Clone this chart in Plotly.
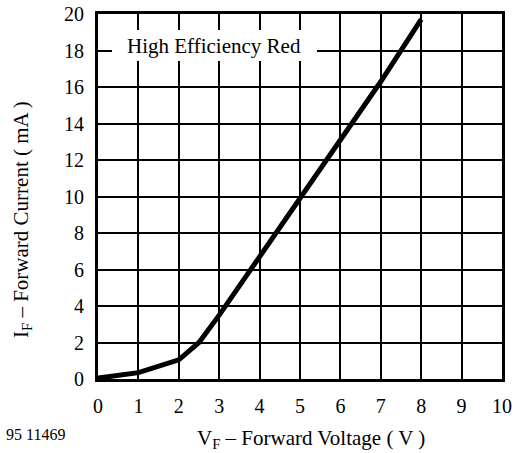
import plotly.graph_objects as go

voltage = [0, 1, 2, 2.5, 3, 4, 5, 6, 7, 8]
current = [0.05, 0.35, 1.05, 2.0, 3.5, 6.7, 10.0, 13.1, 16.3, 19.7]

x_ticks = list(range(0, 11))
y_ticks = list(range(0, 21, 2))

font = "Liberation Serif, Times New Roman, serif"

L, R, T, B = 98, 13, 14, 74
W, H = 515, 453
PW, PH = W - L - R, H - T - B


def px(x):
    return (x - L) / PW


def py(y):
    return (H - B - y) / PH


fig = go.Figure()
fig.add_trace(go.Scatter(x=voltage, y=current, mode="lines",
                         line=dict(color="black", width=5), showlegend=False))

axis_common = dict(showgrid=True, gridcolor="black", gridwidth=1.5,
                   showline=True, linecolor="black", linewidth=3, mirror=True,
                   ticks="", zeroline=False, fixedrange=True, automargin=False,
                   tickfont=dict(size=20), ticklabelstandoff=7)

fig.update_layout(
    width=W, height=H,
    margin=dict(l=L, r=R, t=T, b=B, autoexpand=False),
    paper_bgcolor="white", plot_bgcolor="white",
    font=dict(family=font, size=20, color="black"),
    xaxis=dict(range=[0, 10], tickvals=x_ticks, **axis_common),
    yaxis=dict(range=[0, 20], tickvals=y_ticks, **axis_common),
)

# white label box covering gridlines
fig.add_shape(type="rect", xref="paper", yref="paper",
              x0=px(112), x1=px(317), y0=py(61), y1=py(30),
              fillcolor="white", line=dict(width=0), layer="above")

fig.add_annotation(x=px(214), y=py(46), xref="paper", yref="paper",
                   text="High Efficiency Red", showarrow=False,
                   font=dict(size=21), xanchor="center", yanchor="middle")

fig.add_annotation(x=px(311), y=py(439), xref="paper", yref="paper",
                   text="V<sub>F</sub> – Forward Voltage ( V )", showarrow=False,
                   font=dict(size=21), xanchor="center", yanchor="middle")

fig.add_annotation(x=px(22), y=py(220), xref="paper", yref="paper",
                   text="I<sub>F</sub> – Forward Current ( mA )", showarrow=False,
                   font=dict(size=21), textangle=-90, xanchor="center", yanchor="middle")

fig.add_annotation(x=px(4), y=py(434), xref="paper", yref="paper",
                   text="95 11469", showarrow=False,
                   font=dict(size=16), xanchor="left", yanchor="middle")

fig.write_html("out.html")
